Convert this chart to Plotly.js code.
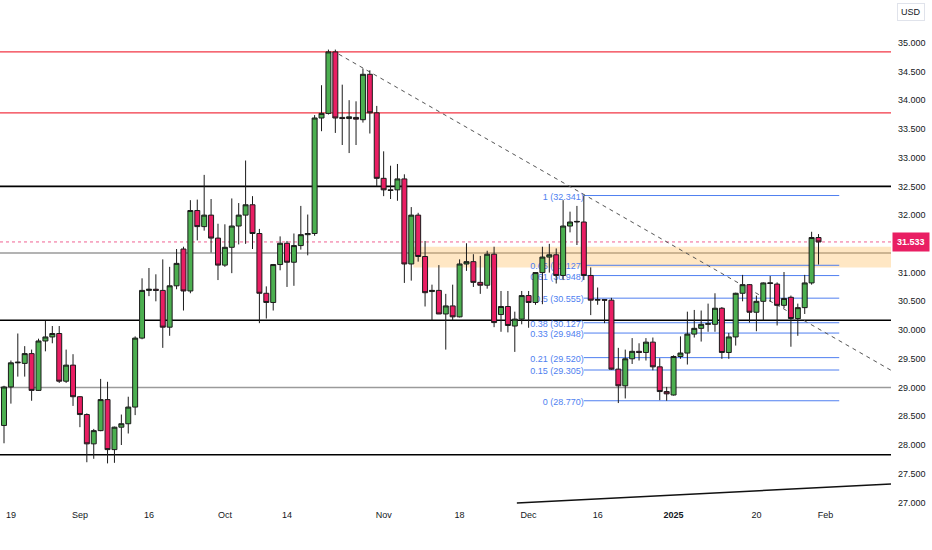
<!DOCTYPE html>
<html><head><meta charset="utf-8">
<script src="https://cdn.plot.ly/plotly-3.0.1.min.js"></script>
<style>html,body{margin:0;padding:0;background:#fff}#chart{width:932px;height:550px}</style>
</head><body><div id="chart"></div>
<script>
const dates = [
'2024-08-16',
'2024-08-19','2024-08-20','2024-08-21','2024-08-22','2024-08-23',
'2024-08-26','2024-08-27','2024-08-28','2024-08-29','2024-08-30',
'2024-09-02','2024-09-03','2024-09-04','2024-09-05','2024-09-06',
'2024-09-09','2024-09-10','2024-09-11','2024-09-12','2024-09-13',
'2024-09-16','2024-09-17','2024-09-18','2024-09-19','2024-09-20',
'2024-09-23','2024-09-24','2024-09-25','2024-09-26','2024-09-27',
'2024-09-30','2024-10-01','2024-10-02','2024-10-03','2024-10-04',
'2024-10-07','2024-10-08','2024-10-09','2024-10-10','2024-10-11',
'2024-10-14','2024-10-15','2024-10-16','2024-10-17','2024-10-18',
'2024-10-21','2024-10-22','2024-10-23','2024-10-24','2024-10-25',
'2024-10-28','2024-10-29','2024-10-30','2024-10-31','2024-11-01',
'2024-11-04','2024-11-05','2024-11-06','2024-11-07','2024-11-08',
'2024-11-11','2024-11-12','2024-11-13','2024-11-14','2024-11-15',
'2024-11-18','2024-11-19','2024-11-20','2024-11-21','2024-11-22',
'2024-11-25','2024-11-26','2024-11-27','2024-11-28','2024-11-29',
'2024-12-02','2024-12-03','2024-12-04','2024-12-05','2024-12-06',
'2024-12-09','2024-12-10','2024-12-11','2024-12-12','2024-12-13',
'2024-12-16','2024-12-17','2024-12-18','2024-12-19','2024-12-20',
'2024-12-23','2024-12-24','2024-12-26','2024-12-27',
'2024-12-30','2024-12-31','2025-01-02','2025-01-03',
'2025-01-06','2025-01-07','2025-01-08','2025-01-09','2025-01-10',
'2025-01-13','2025-01-14','2025-01-15','2025-01-16','2025-01-17',
'2025-01-20','2025-01-21','2025-01-22','2025-01-23','2025-01-24',
'2025-01-27','2025-01-28','2025-01-29','2025-01-30','2025-01-31'
];
const open = [
28.34,
29.01,29.43,29.42,29.59,28.95,
29.81,29.88,29.94,29.11,29.39,
28.84,28.53,28.02,28.25,28.79,
27.92,28.31,28.37,28.66,29.86,
30.69,30.71,30.69,30.05,30.77,
31.41,30.68,32.08,31.80,32.00,
31.60,31.13,31.44,31.81,32.00,
32.18,31.68,30.64,30.48,31.14,
31.51,31.18,31.47,31.66,31.68,
33.69,33.77,34.84,33.70,33.68,
33.70,33.66,34.45,33.78,32.64,
32.44,32.44,32.63,31.15,32.00,
31.28,30.67,30.69,30.28,30.42,
30.23,31.15,31.19,30.83,30.78,
31.32,30.27,30.41,30.07,30.19,
30.60,30.48,31.00,31.27,31.31,
30.95,31.81,31.88,31.88,30.95,
30.52,30.53,30.52,29.32,29.03,
29.50,29.63,29.61,29.79,
29.36,28.93,28.87,29.54,
29.60,29.93,30.03,30.10,30.10,
30.38,29.61,29.88,30.64,30.79,
30.31,30.50,30.81,30.80,30.43,
30.57,30.20,30.39,30.82,31.61
];
const high = [
29.03,
29.47,29.94,29.72,29.66,29.85,
30.16,30.07,30.07,29.66,29.58,
28.85,28.55,28.28,29.15,29.10,
28.32,28.53,28.84,29.89,30.90,
31.08,30.97,31.23,31.10,31.41,
31.45,32.26,32.27,32.70,32.28,
31.85,31.84,32.29,32.21,32.95,
32.33,31.76,30.76,31.15,31.63,
31.55,31.68,32.16,32.01,33.74,
34.26,34.88,34.88,34.27,34.00,
33.98,34.55,34.52,33.90,33.11,
32.86,32.89,32.71,32.14,32.04,
31.55,30.79,31.13,30.63,30.79,
31.23,31.51,31.32,31.29,31.38,
31.45,30.68,30.68,30.32,30.68,
30.68,31.00,31.45,31.50,31.42,
32.26,32.06,32.16,32.34,31.09,
30.74,30.53,30.56,29.69,29.66,
29.86,29.77,29.86,29.87,
29.51,29.01,29.56,29.89,
30.32,30.35,30.34,30.46,30.64,
30.40,29.95,30.65,30.96,30.80,
30.60,30.83,30.94,30.83,31.01,
30.60,30.46,30.96,31.71,31.67
];
const low = [
28.03,
28.72,29.19,29.19,28.77,28.94,
29.63,29.77,29.08,29.08,28.68,
28.31,27.70,27.76,28.24,27.68,
27.69,28.00,28.20,28.52,29.84,
30.59,30.50,29.69,29.90,30.71,
30.34,30.64,31.56,31.73,31.35,
30.87,31.10,30.99,31.49,31.50,
31.41,30.12,30.20,30.34,31.04,
30.75,30.77,31.40,31.30,31.64,
33.46,33.75,33.43,33.22,33.08,
33.22,33.61,33.42,32.50,32.33,
32.28,32.25,30.82,30.86,31.19,
30.41,30.17,30.28,29.66,30.17,
30.22,31.03,30.75,30.63,30.72,
30.05,29.97,29.96,29.62,30.10,
30.04,30.44,30.45,31.00,30.81,
30.87,31.70,31.48,30.87,30.26,
30.44,30.12,29.31,28.73,28.81,
29.41,29.47,29.47,29.30,
28.78,28.77,28.86,29.50,
29.40,29.87,29.80,29.97,29.97,
29.50,29.50,29.73,30.50,30.13,
29.98,30.17,30.49,30.08,30.38,
29.71,29.90,30.28,30.79,31.14
];
const close = [
29.01,
29.43,29.44,29.59,28.95,29.81,
29.88,29.94,29.11,29.39,28.84,
28.53,28.02,28.25,28.79,27.92,
28.31,28.37,28.66,29.86,30.69,
30.71,30.69,30.05,30.77,31.16,
30.68,32.08,31.80,32.00,31.60,
31.13,31.44,31.81,32.00,32.18,
31.68,30.64,30.48,31.14,31.51,
31.18,31.47,31.66,31.68,33.69,
33.77,34.84,33.69,33.68,33.71,
33.67,34.45,33.78,32.64,32.44,
32.43,32.63,31.15,32.00,31.28,
30.65,30.69,30.28,30.42,30.23,
31.15,31.19,30.83,30.78,31.32,
30.13,30.41,30.08,30.19,30.60,
30.48,31.00,31.27,31.31,30.95,
31.81,31.88,31.89,30.95,30.52,
30.53,30.52,29.32,29.03,29.50,
29.63,29.61,29.79,29.36,
28.93,28.89,29.54,29.60,
29.93,30.03,30.10,30.11,30.38,
29.61,29.88,30.64,30.79,30.31,
30.50,30.82,30.82,30.43,30.55,
30.20,30.39,30.82,31.61,31.533
];

const redLevels = [34.84, 33.78];
const blackLevels = [32.5, 30.17, 27.83];
const grayLevels = [31.34, 29.0];
const lastPrice = 31.533;
const zoneLow = 31.09, zoneHigh = 31.45, zoneStart = 59.3;
const fibRatios = ['1','0.66','0.61','0.5','0.38','0.33','0.21','0.15','0'];
const fibPrices = [32.341,31.127,30.948,30.555,30.127,29.948,29.520,29.305,28.770];
const fibStart = 84, fibEnd = 121;
const trendDownX = [48.5, 128.5], trendDownY = [34.80, 29.30];
const trendUpX = [74.3, 128.5], trendUpY = [26.99, 27.32];
const extraCategory = '2025-02-03';
const xTickVals = ['2024-08-19','2024-09-02','2024-09-16','2024-10-01','2024-10-14','2024-11-01','2024-11-18','2024-12-02','2024-12-16','2025-01-02','2025-01-20','2025-02-03'];
const xTickText = ['19','Sep','16','Oct','14','Nov','18','Dec','16','<b>2025</b>','20','Feb'];
const yTickVals = [27, 27.5, 28, 28.5, 29, 29.5, 30, 30.5, 31, 32, 32.5, 33, 33.5, 34, 34.5, 35];

const FONT = 'Liberation Sans, Arial, sans-serif';
const GREEN = '#4caf50', RED = '#e91e63', FIB = '#4f7ff0';

const shapes = [];
shapes.push({type:'rect', xref:'x', yref:'y', x0:zoneStart, x1:1000, y0:zoneLow, y1:zoneHigh,
  fillcolor:'rgba(255,183,77,0.33)', line:{width:0}, layer:'below'});
redLevels.forEach(v => shapes.push({type:'line', xref:'paper', yref:'y', x0:0, x1:1, y0:v, y1:v, line:{color:'#f23645', width:1.3}, layer:'below'}));
grayLevels.forEach(v => shapes.push({type:'line', xref:'paper', yref:'y', x0:0, x1:1, y0:v, y1:v, line:{color:'#9a9a9a', width:1.4}, layer:'below'}));
blackLevels.forEach(v => shapes.push({type:'line', xref:'paper', yref:'y', x0:0, x1:1, y0:v, y1:v, line:{color:'#000000', width:1.6}, layer:'below'}));
shapes.push({type:'line', xref:'paper', yref:'y', x0:0, x1:1, y0:lastPrice, y1:lastPrice, line:{color:'#f06292', width:1, dash:'dot'}, layer:'below'});
fibPrices.forEach((v,k) => shapes.push({type:'line', xref:'x', yref:'y', x0:fibStart, x1:fibEnd, y0:v, y1:v,
  line:{color:FIB, width:1}, layer:'below',
  label:{text: fibRatios[k] + ' (' + v.toFixed(3) + ')', textposition:'start', xanchor:'right', yanchor:'middle', padding:6,
    font:{family:FONT, size:9, color:FIB}}}));
shapes.push({type:'line', xref:'x', yref:'y', x0:trendDownX[0], x1:trendDownX[1], y0:trendDownY[0], y1:trendDownY[1],
  line:{color:'#555', width:1, dash:'4px,4px'}, layer:'below'});
shapes.push({type:'line', xref:'x', yref:'y', x0:trendUpX[0], x1:trendUpX[1], y0:trendUpY[0], y1:trendUpY[1],
  line:{color:'#111', width:1.5}, layer:'below'});

const trace = {
  type:'candlestick', x:dates, open:open, high:high, low:low, close:close,
  increasing:{fillcolor:GREEN, line:{color:'#1b1b1b', width:1}},
  decreasing:{fillcolor:RED, line:{color:'#1b1b1b', width:1}},
  whiskerwidth:0, hoverinfo:'skip', showlegend:false
};

const layout = {
  width:932, height:550,
  margin:{l:0, r:41, t:0, b:45},
  paper_bgcolor:'#ffffff', plot_bgcolor:'#ffffff',
  showlegend:false, boxgap:0.28, boxgroupgap:0,
  font:{family:FONT, size:9, color:'#131722'},
  xaxis:{type:'category', categoryorder:'array', categoryarray:dates.concat([extraCategory]),
    range:[-0.58, 128.5], rangeslider:{visible:false}, showgrid:false, zeroline:false, showline:false,
    tickmode:'array', tickvals:xTickVals, ticktext:xTickText, ticks:'', ticklabelstandoff:3,
    tickfont:{family:FONT, size:9, color:'#131722'}, fixedrange:true},
  yaxis:{side:'right', range:[26.956, 35.743], tickmode:'array', tickvals:yTickVals,
    ticktext:yTickVals.map(v => v.toFixed(3)), showgrid:false, zeroline:false,
    showline:false, ticks:'', ticklabelstandoff:6, tickfont:{family:FONT, size:9, color:'#131722'}, fixedrange:true},
  shapes:shapes,
  annotations:[
    {xref:'paper', yref:'y', x:1, xanchor:'left', y:lastPrice, yanchor:'middle', text:'<b>31.533</b>', showarrow:false,
     bgcolor:'#e91e63', font:{family:FONT, size:9, color:'#ffffff'}, borderpad:4, xshift:1},
    {xref:'paper', yref:'paper', x:1.0224, xanchor:'center', y:0.976, yanchor:'middle', text:'USD', showarrow:false,
     bgcolor:'#ffffff', bordercolor:'#e0e3eb', borderwidth:1, borderpad:3, font:{family:FONT, size:9, color:'#131722'}}
  ]
};

Plotly.newPlot('chart', [trace], layout, {staticPlot:true, displayModeBar:false});
</script></body></html>
